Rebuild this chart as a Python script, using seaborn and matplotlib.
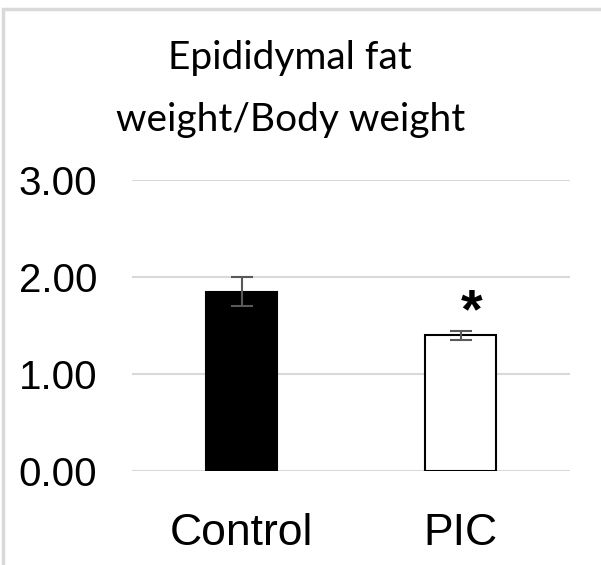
import pandas as pd
import matplotlib.pyplot as plt
import seaborn as sns
from matplotlib.patches import Rectangle

sns.set_theme(style="white")
plt.rcParams["font.family"] = ["Liberation Sans", "DejaVu Sans"]

# data
groups = ["Control", "PIC"]
means = [1.85, 1.40]
errors = [0.145, 0.045]
bar_colors = ["black", "white"]
y_ticks = [0.0, 1.0, 2.0, 3.0]

df = pd.DataFrame({"group": groups, "ratio": means})

fig = plt.figure(figsize=(6.01, 5.65), dpi=100)
ax = fig.add_axes([132 / 601, (565 - 471) / 565, (570 - 132) / 601, (471 - 180) / 565])

sns.barplot(
  data=df, x="group", y="ratio", hue="group",
  palette=dict(zip(groups, bar_colors)),
  edgecolor="black", linewidth=1.5, width=0.32,
  errorbar=None, legend=False, ax=ax
)
ax.errorbar(range(len(groups)), means, yerr=errors, fmt="none",
            ecolor="#595959", elinewidth=1.5, capsize=8, capthick=1.5, zorder=5)

ax.set_ylim(0, 3)
ax.set_xlim(-0.5, 1.5)
ax.set_yticks(y_ticks)
ax.set_yticklabels([f"{t:.2f}" for t in y_ticks], fontsize=29, color="black")
ax.set_xticklabels(groups, fontsize=32, color="black")
ax.tick_params(axis="y", length=0, pad=25)
ax.tick_params(axis="x", length=0, pad=30)
ax.set_xlabel("")
ax.set_ylabel("")
ax.yaxis.grid(True, color="#d9d9d9", linewidth=1.5)
ax.set_axisbelow(True)
for s in ax.spines.values():
  s.set_visible(False)

# significance marker
ax.text(1.05, means[1] + 0.23, "*", ha="center", va="center",
        fontsize=40, fontweight="bold", color="black")

# title
fig.text(0.483, 1 - 69 / 565, "Epididymal fat", ha="center", va="baseline",
         fontsize=28, color="black", family=["Lato", "DejaVu Sans"])
fig.text(0.483, 1 - 131 / 565, "weight/Body weight", ha="center", va="baseline",
         fontsize=28, color="black", family=["Lato", "DejaVu Sans"])

# light frame (top and left edges visible)
fig.patches.append(Rectangle((3 / 601, -0.1), 1.2, 1 - 9 / 565 + 0.1,
                             transform=fig.transFigure, fill=False,
                             edgecolor="#d9d9d9", linewidth=2.5))

fig.savefig("out.png", dpi=100)
